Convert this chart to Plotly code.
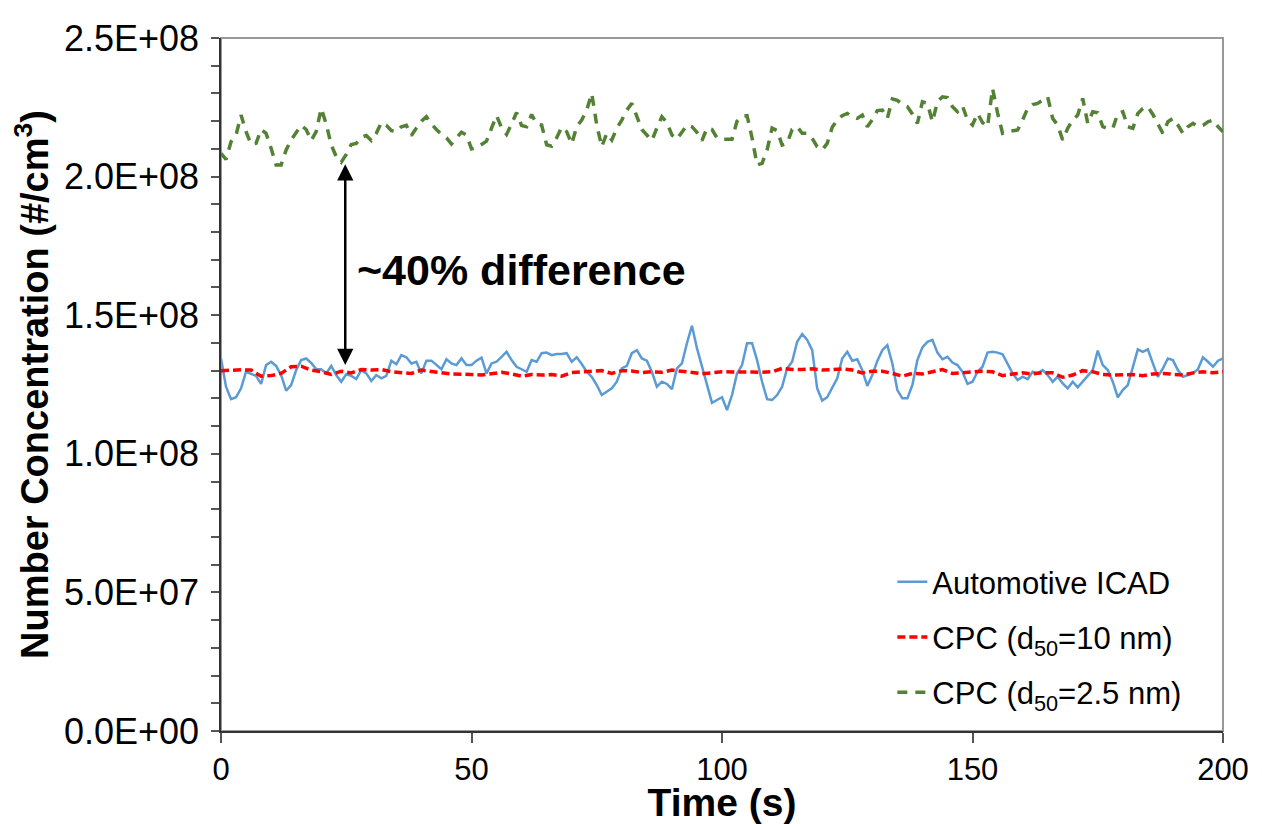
import plotly.graph_objects as go

# ---------------- data (values in units of 1e6 #/cm3) ----------------
SCALE = 1e6
time_s = list(range(0, 201))          # Automotive ICAD & CPC 2.5 nm (1 s)
time_red = list(range(0, 201, 2))     # CPC 10 nm (read every 2 s)

icad = [
    134.4, 124.2, 119.7, 120.4, 123.6, 129.6, 128.8, 128.1, 125.2, 132.0,
    133.2, 131.7, 128.4, 122.8, 124.8, 130.2, 133.8, 134.4, 132.8, 130.6,
    130.5, 129.0, 131.7, 128.4, 126.0, 128.7, 128.1, 127.0, 130.2, 129.0,
    126.3, 128.4, 127.2, 128.1, 133.6, 132.3, 135.6, 134.8, 132.6, 133.2,
    129.0, 133.6, 133.6, 132.0, 130.5, 134.1, 132.6, 132.0, 134.4, 132.0,
    132.0, 133.6, 134.7, 129.0, 132.6, 133.2, 135.0, 136.8, 133.8, 131.4,
    130.5, 129.6, 133.8, 133.2, 136.3, 136.5, 135.6, 136.0, 136.0, 136.3,
    133.2, 134.8, 132.4, 129.6, 127.8, 124.8, 121.2, 122.4, 123.6, 126.0,
    130.8, 131.7, 136.3, 137.4, 134.4, 133.6, 129.6, 124.2, 126.0, 125.2,
    123.3, 130.8, 132.6, 139.9, 146.2, 138.1, 131.4, 125.4, 118.4, 119.4,
    120.4, 115.8, 121.2, 129.0, 132.0, 139.9, 139.9, 133.8, 126.0, 119.7,
    119.4, 121.2, 124.2, 130.8, 133.2, 140.4, 143.2, 141.1, 137.4, 123.6,
    119.2, 120.4, 124.0, 127.2, 134.4, 136.8, 133.6, 134.1, 130.2, 124.5,
    128.4, 133.5, 137.4, 139.2, 132.6, 123.0, 120.0, 120.0, 124.8, 133.8,
    138.4, 140.4, 141.1, 136.5, 134.1, 135.0, 132.9, 132.0, 129.6, 125.2,
    126.0, 129.6, 131.4, 136.5, 136.8, 136.5, 135.9, 132.6, 129.0, 126.6,
    127.8, 126.9, 129.6, 129.0, 130.2, 128.4, 126.0, 127.8, 125.4, 123.6,
    126.0, 124.0, 126.0, 127.8, 130.2, 137.2, 132.0, 130.2, 126.0, 120.4,
    123.0, 124.8, 130.8, 137.7, 136.8, 137.7, 132.6, 127.8, 130.8, 134.4,
    133.8, 130.2, 127.8, 128.4, 129.0, 130.5, 134.8, 133.2, 131.4, 133.6,
    134.4,
]

cpc_10nm = [
    130.0, 130.2, 130.3, 130.2, 128.0, 128.2, 129.0, 131.4, 131.6, 130.2,
    129.6, 128.6, 129.8, 129.2, 130.4, 130.2, 130.4, 129.6, 129.2, 129.0,
    130.2, 129.6, 129.2, 128.8, 128.8, 128.6, 128.4, 128.8, 129.4, 128.8,
    128.0, 128.6, 128.4, 128.6, 128.0, 129.3, 129.6, 129.7, 130.0, 129.0,
    130.0, 129.9, 129.3, 129.6, 129.4, 130.2, 129.8, 129.6, 128.9, 129.2,
    129.6, 129.5, 129.6, 129.5, 129.4, 129.6, 130.8, 130.4, 130.4, 130.7,
    130.2, 130.4, 130.6, 130.2, 129.2, 129.8, 129.8, 129.0, 128.0, 129.0,
    128.8, 129.6, 130.4, 129.0, 129.2, 129.6, 129.8, 129.6, 128.2, 128.8,
    129.2, 128.8, 129.3, 129.2, 127.6, 128.4, 130.0, 129.6, 128.6, 128.4,
    128.4, 128.6, 128.2, 128.8, 129.0, 128.8, 128.4, 129.2, 129.6, 129.2,
    129.6,
]

cpc_2_5nm = [
    208.4, 206.2, 212.6, 215.0, 222.2, 216.2, 211.6, 212.0, 217.0, 215.6,
    210.2, 204.2, 204.2, 209.6, 213.2, 216.0, 218.5, 217.0, 213.0, 216.2,
    224.6, 219.0, 211.4, 207.2, 205.2, 208.0, 211.6, 212.0, 214.2, 214.8,
    213.0, 215.6, 219.5, 218.5, 216.6, 216.2, 218.0, 218.5, 214.8, 217.5,
    220.0, 221.6, 219.0, 217.0, 215.2, 214.0, 211.8, 214.0, 216.0, 215.0,
    210.0, 210.4, 211.6, 212.8, 217.5, 222.0, 217.6, 215.2, 219.0, 223.1,
    218.4, 218.0, 222.4, 219.0, 218.6, 211.5, 211.0, 214.0, 217.8, 216.2,
    211.8, 218.0, 220.4, 224.0, 230.0, 218.6, 210.8, 215.6, 213.2, 217.4,
    220.4, 224.0, 226.4, 221.6, 217.0, 215.0, 213.0, 217.5, 221.6, 219.5,
    215.0, 213.5, 216.0, 218.6, 218.0, 216.0, 213.0, 217.5, 217.0, 214.0,
    213.5, 213.5, 213.5, 220.0, 221.8, 222.0, 214.0, 204.2, 204.8, 209.6,
    217.5, 216.6, 211.4, 212.0, 217.0, 218.0, 215.6, 215.6, 213.8, 210.8,
    209.6, 212.0, 217.8, 220.4, 222.0, 222.8, 221.6, 221.0, 222.2, 218.0,
    220.5, 223.8, 224.0, 221.0, 228.0, 227.5, 226.0, 225.2, 222.6, 219.2,
    227.0, 226.4, 219.8, 227.0, 228.8, 228.5, 225.2, 223.4, 225.5, 220.4,
    218.6, 222.8, 219.5, 218.0, 231.8, 223.0, 215.6, 216.2, 216.5, 216.8,
    220.4, 224.6, 226.0, 226.4, 227.5, 228.8, 221.0, 218.6, 213.2, 217.4,
    220.4, 222.2, 228.2, 219.2, 223.4, 223.0, 218.0, 217.4, 217.4, 222.8,
    223.4, 218.0, 217.4, 222.8, 224.6, 225.2, 222.4, 219.2, 215.6, 219.8,
    221.0, 218.6, 215.6, 218.0, 219.2, 218.0, 218.5, 219.8, 220.4, 218.0,
    216.2,
]

series_names = ["Automotive ICAD", "CPC (d<sub>50</sub>=10 nm)", "CPC (d<sub>50</sub>=2.5 nm)"]

x_tickvals = [0, 50, 100, 150, 200]
y_tickvals = [0, 5e7, 1e8, 1.5e8, 2e8, 2.5e8]
y_ticktext = ["0.0E+00", "5.0E+07", "1.0E+08", "1.5E+08", "2.0E+08", "2.5E+08"]

# annotation (arrow between the two CPC levels)
arrow_t = 24.8
arrow_top = 205.0
arrow_bottom = 132.0
label_t = 26.7
label_y = 166.3
label_text = "<b>~40% difference</b>"

# ---------------- figure ----------------
FONT = "Arial, 'Liberation Sans', sans-serif"

fig = go.Figure()
fig.add_trace(go.Scatter(
    x=time_s, y=[v * SCALE for v in icad], mode="lines", name=series_names[0],
    line=dict(color="#5B9BD5", width=2.5), legendgroup="g1"))
fig.add_trace(go.Scatter(
    x=time_red, y=[v * SCALE for v in cpc_10nm], mode="lines", name=series_names[1],
    line=dict(color="#FF0000", width=3.5, dash="8px,4px"), legendgroup="g2"))
fig.add_trace(go.Scatter(
    x=time_s, y=[v * SCALE for v in cpc_2_5nm], mode="lines", name=series_names[2],
    line=dict(color="#548235", width=3.5, dash="10px,8px"), legendgroup="g3"))

fig.add_shape(type="rect", xref="x domain", yref="y domain", x0=0, x1=1, y0=0, y1=1,
              line=dict(color="#999999", width=2), layer="below")

fig.add_annotation(x=arrow_t, y=arrow_bottom * SCALE, ax=arrow_t, ay=arrow_top * SCALE,
                   xref="x", yref="y", axref="x", ayref="y", text="", showarrow=True,
                   arrowhead=2, arrowside="end+start", arrowsize=1.3, arrowwidth=2.5,
                   arrowcolor="black")
fig.add_annotation(x=label_t, y=label_y * SCALE, xref="x", yref="y", text=label_text,
                   showarrow=False, xanchor="left", yanchor="middle",
                   font=dict(family=FONT, size=43, color="black"))

# page body has an 8 px margin: size the figure so the plot lands where the reference's does
fig.update_layout(
    width=1254, height=816,
    margin=dict(l=213, r=39, t=30, b=93),
    paper_bgcolor="white", plot_bgcolor="white",
    font=dict(family=FONT, color="black"),
    showlegend=True,
    legend=dict(x=0.670, xanchor="left", y=0.254, yanchor="top",
                font=dict(family=FONT, size=31, color="black"),
                bgcolor="rgba(0,0,0,0)", tracegroupgap=12, traceorder="grouped"),
    xaxis=dict(range=[0, 200], tickvals=x_tickvals, ticks="outside", ticklen=10,
               tickcolor="#555555", tickwidth=1.5, showline=True, linecolor="#333333",
               linewidth=1.5, showgrid=False, zeroline=False, automargin=False,
               tickfont=dict(family=FONT, size=31, color="black"),
               title=dict(text="<b>Time (s)</b>", font=dict(family=FONT, size=39, color="black"),
                          standoff=2)),
    yaxis=dict(range=[0, 2.5e8], tickvals=y_tickvals, ticktext=y_ticktext, ticks="outside",
               ticklen=8, tickcolor="#555555", tickwidth=1.5, showline=True,
               linecolor="#333333", linewidth=1.5, showgrid=False, zeroline=False,
               automargin=False, ticklabelstandoff=5,
               minor=dict(dtick=1e7, ticks="outside", ticklen=8, tickcolor="#555555",
                          tickwidth=1.5, showgrid=False),
               tickfont=dict(family=FONT, size=36, color="black"),
               title=dict(text="<b>Number Concentration (#/cm<sup>3</sup>)</b>",
                          font=dict(family=FONT, size=38, color="black"), standoff=11)),
)

fig.write_html("out.html")
